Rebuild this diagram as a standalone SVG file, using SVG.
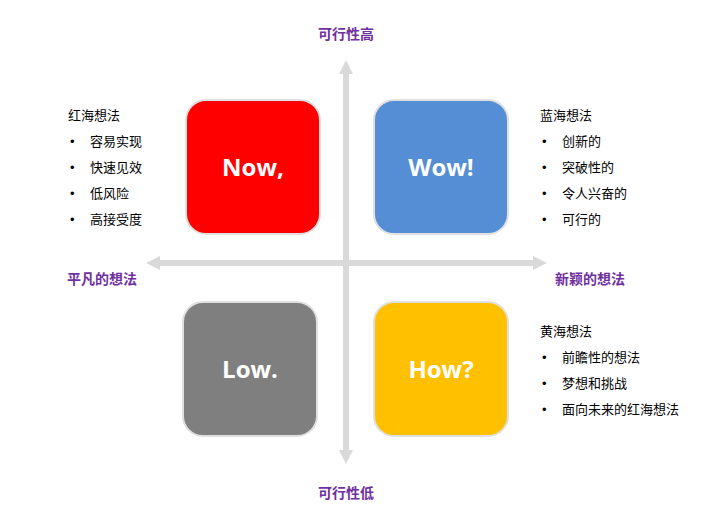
<svg xmlns="http://www.w3.org/2000/svg" width="720" height="527" viewBox="0 0 720 527">
<style>
.ax{stroke:#d9d9d9;stroke-width:6;fill:none}
.ah{fill:#d9d9d9}
.box{stroke:#e0e0e0;stroke-width:2}
.bt{font-family:"Open Sans","Liberation Sans","Noto Sans CJK SC",sans-serif;font-weight:bold;font-size:24px;fill:#fff;text-anchor:middle}
.lab{font-family:"Liberation Sans","Noto Sans CJK SC",sans-serif;font-weight:bold;font-size:14px;fill:#7030a0;text-anchor:middle}
.t{font-family:"Liberation Sans","Noto Sans CJK SC",sans-serif;font-size:13px;fill:#000}
</style>
<rect width="720" height="527" fill="#fff"/>
<g id="connectors">
<line class="ax" x1="346" y1="72" x2="346" y2="452"/>
<polygon class="ah" points="346,60 339,74 353,74"/>
<polygon class="ah" points="346,464 339,450 353,450"/>
<line class="ax" x1="158" y1="263" x2="535" y2="263"/>
<polygon class="ah" points="146,263 160,256 160,270"/>
<polygon class="ah" points="547,263 533,256 533,270"/>
</g>
<g id="now"><rect class="box" x="186" y="100" width="134" height="134" rx="20" fill="#ff0000"/><text class="bt" x="253" y="176">Now,</text></g>
<g id="wow"><rect class="box" x="374" y="100" width="134" height="134" rx="20" fill="#558ed5"/><text class="bt" x="441" y="176">Wow!</text></g>
<g id="low"><rect class="box" x="183" y="302" width="134" height="134" rx="20" fill="#7f7f7f"/><text class="bt" x="250" y="378">Low.</text></g>
<g id="how"><rect class="box" x="374" y="302" width="134" height="134" rx="20" fill="#ffc000"/><text class="bt" x="441" y="378">How?</text></g>
<g id="labels">
<text class="lab" x="346" y="39">可行性高</text>
<text class="lab" x="346" y="498">可行性低</text>
<text class="lab" x="102" y="284">平凡的想法</text>
<text class="lab" x="590" y="284">新颖的想法</text>
</g>
<g id="red-list" class="t">
<text x="68" y="120">红海想法</text>
<text x="70" y="146">•</text><text x="90" y="146">容易实现</text>
<text x="70" y="172">•</text><text x="90" y="172">快速见效</text>
<text x="70" y="198">•</text><text x="90" y="198">低风险</text>
<text x="70" y="224">•</text><text x="90" y="224">高接受度</text>
</g>
<g id="blue-list" class="t">
<text x="540" y="120">蓝海想法</text>
<text x="542" y="146">•</text><text x="562" y="146">创新的</text>
<text x="542" y="172">•</text><text x="562" y="172">突破性的</text>
<text x="542" y="198">•</text><text x="562" y="198">令人兴奋的</text>
<text x="542" y="224">•</text><text x="562" y="224">可行的</text>
</g>
<g id="yellow-list" class="t">
<text x="540" y="336">黄海想法</text>
<text x="542" y="362">•</text><text x="562" y="362">前瞻性的想法</text>
<text x="542" y="388">•</text><text x="562" y="388">梦想和挑战</text>
<text x="542" y="414">•</text><text x="562" y="414">面向未来的红海想法</text>
</g>
</svg>
